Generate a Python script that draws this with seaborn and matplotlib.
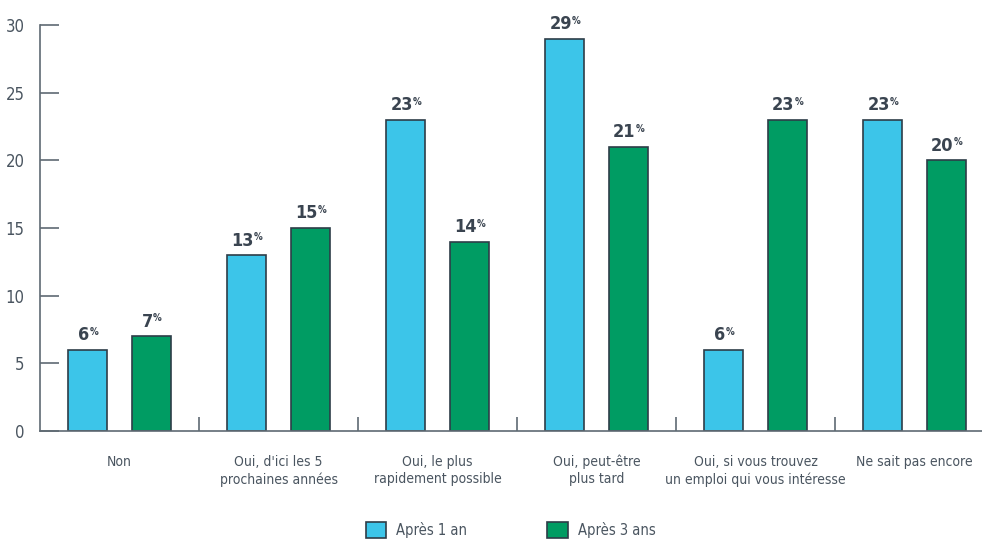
import pandas as pd
import matplotlib
matplotlib.use("Agg")
import matplotlib.pyplot as plt
import seaborn as sns

categories = [
    "Non",
    "Oui, d'ici les 5\nprochaines années",
    "Oui, le plus\nrapidement possible",
    "Oui, peut-être\nplus tard",
    "Oui, si vous trouvez\nun emploi qui vous intéresse",
    "Ne sait pas encore",
]
series = ["Après 1 an", "Après 3 ans"]
apres_1_an = [6, 13, 23, 29, 6, 23]
apres_3_ans = [7, 15, 14, 21, 23, 20]
yticks = [0, 5, 10, 15, 20, 25, 30]

df = pd.DataFrame({
    "categorie": categories * 2,
    "serie": [series[0]] * 6 + [series[1]] * 6,
    "valeur": apres_1_an + apres_3_ans,
})

sns.set_style("white")
plt.rcParams["font.family"] = ["DejaVu Sans"]
plt.rcParams["font.stretch"] = "condensed"

blue = "#3cc5e9"
green = "#009c63"
edge = "#2e3d48"
axis_col = "#5f6a73"
text_col = "#3a4450"

fig = plt.figure(figsize=(9.82, 5.42), dpi=100)
ax = fig.add_axes([40 / 982, 1 - 431 / 542, 954 / 982, (431 - 25) / 542])

sns.barplot(df, x="categorie", y="valeur", hue="serie", order=categories,
            hue_order=series, palette=[blue, green], saturation=1,
            width=0.8, gap=0.385, edgecolor=edge, linewidth=1.2, ax=ax,
            legend=False)

ax.set_xlim(-0.5, 5.5)
ax.set_ylim(0, 30)
ax.set_yticks(yticks)
ax.set_xlabel("")
ax.set_ylabel("")
for s in ["top", "right"]:
    ax.spines[s].set_visible(False)
for s in ["left", "bottom"]:
    ax.spines[s].set_color(axis_col)
    ax.spines[s].set_linewidth(1.2)

ax.tick_params(axis="y", left=True, direction="in", length=14, width=1.2,
               color=axis_col, labelsize=12, labelcolor="#4a5560", pad=11)
ax.set_xticks(range(len(categories)))
ax.set_xticklabels(categories, fontsize=10, color="#4a5560", linespacing=1.3)
ax.tick_params(axis="x", length=0, pad=17)
ax.set_xticks([i + 0.5 for i in range(5)], minor=True)
ax.tick_params(axis="x", which="minor", bottom=True, direction="in", length=10,
               width=1.2, color=axis_col)

# étiquettes de valeur
for container in ax.containers:
    for bar in container:
        v = bar.get_height()
        t = ax.annotate(f"{int(v)}", (bar.get_x() + bar.get_width() / 2, v),
                        xytext=(-3, 4), textcoords="offset points",
                        ha="center", va="bottom", fontsize=13,
                        fontweight="bold", color=text_col)
        ax.annotate("%", xy=(1, 1), xycoords=t, xytext=(0.3, -0.5),
                    textcoords="offset points", ha="left", va="top",
                    fontsize=7, fontweight="bold", color=text_col)

handles = [plt.Rectangle((0, 0), 1, 1, facecolor=c, edgecolor=edge, linewidth=1.2)
           for c in [blue, green]]
fig.legend(handles, series, loc="center", bbox_to_anchor=(0.52, 0.022), ncol=2,
           frameon=False, fontsize=10.5, handlelength=1.4, handleheight=1.4,
           columnspacing=5.5, handletextpad=0.7, labelcolor="#4a5560")

fig.savefig("out.png", dpi=100)
